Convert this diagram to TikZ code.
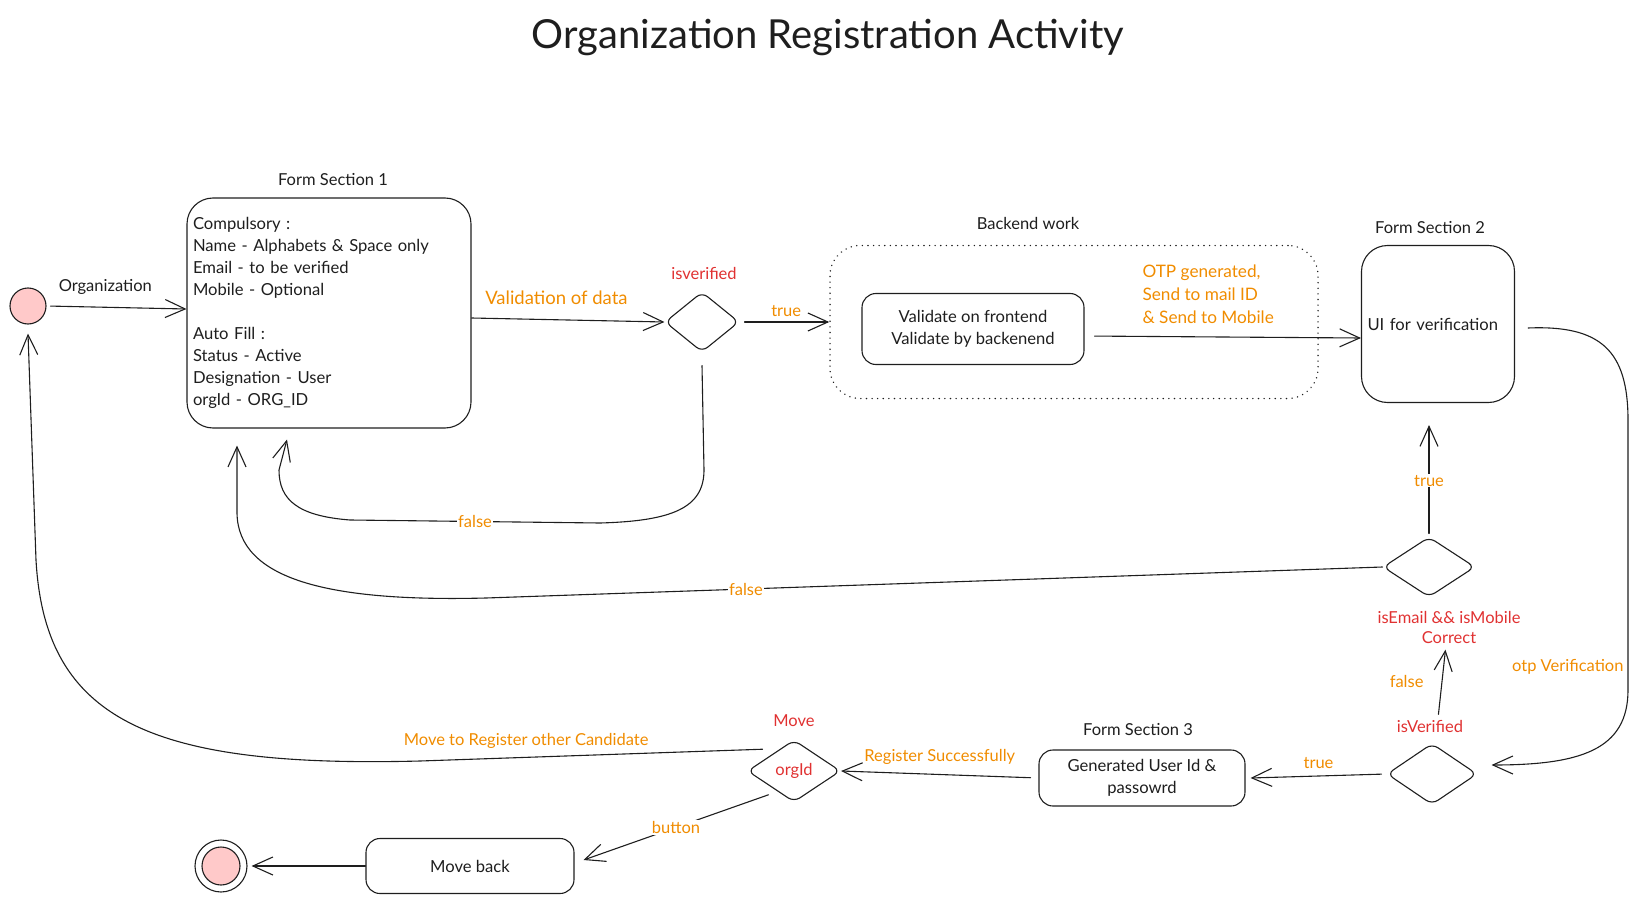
\documentclass[tikz,border=0pt]{standalone}
\usepackage{fontspec}
\setmainfont{Lato}
\usetikzlibrary{shapes.geometric,arrows.meta}
\newlength{\startdotsize}
\setlength{\startdotsize}{36pt}
\definecolor{inkcolor}{RGB}{30,30,30}
\definecolor{guardcolor}{RGB}{224,49,49}
\definecolor{eventcolor}{RGB}{240,140,0}
\definecolor{dotcolor}{RGB}{255,201,201}
\newcommand{\bodyfont}{\fontsize{16.6}{22}\selectfont}
\newcommand{\labelfont}{\fontsize{16.5}{20}\selectfont}
\newcommand{\titlefont}{\fontsize{40}{44}\selectfont}
\tikzstyle{statebox} = [draw=inkcolor, rounded corners=14pt, text=inkcolor, font=\bodyfont, inner sep=6pt, align=center]
\tikzstyle{formbox} = [statebox, rounded corners=26pt, align=left]
\tikzstyle{decision} = [draw=inkcolor, diamond, rounded corners=7pt, inner sep=0, font=\labelfont, text=guardcolor]
\tikzstyle{flow} = [draw=inkcolor, -{Straight Barb[length=20pt, width=18pt]}, line cap=round]
\tikzstyle{caption} = [text=inkcolor, font=\labelfont, inner sep=1pt]
\tikzstyle{guard} = [text=guardcolor, font=\labelfont, inner sep=1pt]
\tikzstyle{event} = [text=eventcolor, font=\labelfont, inner sep=1pt]
\tikzstyle{onedge} = [event, fill=white]

\begin{document}
\begin{tikzpicture}[
		x=1pt, y=-1pt,
		line width=1.1pt
		]
		\useasboundingbox (0,0) rectangle (1641,904);
		
		\node[text=inkcolor, font=\titlefont] (heading) at (828,37) {Organization Registration Activity};
		
		% start and end points
		\node[circle, draw=inkcolor, fill=dotcolor, minimum size=\startdotsize, inner sep=0] (start) at (28,306) {};
		\node[circle, draw=inkcolor, minimum size=52pt, inner sep=0] (finish) at (221,866) {};
		\node[circle, draw=inkcolor, fill=dotcolor, minimum size=38pt, inner sep=0] (finishcore) at (finish) {};
		
		% states
		\node[formbox, minimum height=230pt, text width=272pt] (form1) at (329,313) {Compulsory :\\Name - Alphabets \& Space only\\Email - to be verified\\Mobile - Optional\\[22pt]Auto Fill :\\Status - Active\\Designation - User\\orgId - ORG\_ID};
		\node[caption] (form1title) at (333,180) {Form Section 1};
		
		\node[draw=inkcolor, line width=1.5pt, dash pattern=on 0.1pt off 5.5pt, line cap=round, rounded corners=30pt, minimum width=488pt, minimum height=153pt] (backend) at (1074,322) {};
		\node[caption] (backendtitle) at (1028,223) {Backend work};
		\node[statebox, minimum width=222pt, minimum height=71pt] (validate) at (973,329) {Validate on frontend\\Validate by backenend};
		
		\node[formbox, minimum height=157pt, text width=141pt] (form2) at (1438,324) {UI for verification};
		\node[caption] (form2title) at (1430,228) {Form Section 2};
		
		\node[statebox, minimum width=206pt, minimum height=56pt] (form3) at (1142,778) {Generated User Id \&\\passowrd};
		\node[caption] (form3title) at (1138,730) {Form Section 3};
		
		\node[statebox, minimum width=208pt, minimum height=55pt] (moveback) at (470,866) {Move back};
		
		% decisions
		\node[decision, minimum width=74pt, minimum height=60pt] (verifycheck) at (702,322) {};
		\node[guard] (verifynote) at (704,273) {isverified};
		\node[decision, minimum width=92pt, minimum height=60pt] (contactcheck) at (1429,567) {};
		\node[guard, align=center] (contactnote) at (1449,627) {isEmail \&\& isMobile\\Correct};
		\node[decision, minimum width=90pt, minimum height=61pt] (otpcheck) at (1432,774) {};
		\node[guard] (otpnote) at (1430,726) {isVerified};
		\node[decision, minimum width=93pt, minimum height=62pt] (orgcheck) at (794,771) {orgId};
		\node[guard] (orgnote) at (794,721) {Move};
		
		% transitions
		\draw[flow, shorten <=4pt] (start.east) -- node[caption, above=11pt, pos=0.42] {Organization} ([yshift=4pt]form1.west);
		\draw[flow] ([yshift=-5pt]form1.east) -- node[event, font=\fontsize{18.5}{22}\selectfont, above=14pt, pos=0.44] {Validation of data} (verifycheck.west);
		\draw[flow, shorten <=5pt] (verifycheck.east) -- node[event, above=4pt, pos=0.52] {true} (backend.west);
		\draw[flow, shorten <=10pt] ([yshift=-7pt]validate.east) -- ([yshift=-14pt]form2.west);
		\node[event, font=\fontsize{17.2}{23}\selectfont, align=left, anchor=west] (otpsent) at (1141,294) {OTP generated,\\Send to mail ID\\\& Send to Mobile};
		
		\draw[flow] ([yshift=-13pt]verifycheck.south) -- (704,470)
			.. controls (704,508) and (672,521) .. (600,523)
			-- node[onedge, pos=0.5] {false} (350,520)
			.. controls (298,516) and (279,500) .. (279,470)
			-- ([xshift=-42pt,yshift=-11pt]form1.south);
		
		\draw[flow] (contactcheck.west) -- node[onedge, pos=0.71] {false} (486,598)
			.. controls (330,602) and (238,580) .. (237,513)
			-- ([xshift=-92pt,yshift=-17pt]form1.south);
		
		\draw[flow] ([xshift=13pt,yshift=-4pt]form2.east)
			.. controls (1600,325) and (1628,350) .. (1628,420)
			-- node[event, anchor=east, xshift=-3pt, pos=0.915] {otp Verification} (1628,690)
			.. controls (1628,750) and (1580,765) .. ([xshift=14pt,yshift=9pt]otpcheck.east);
		
		\draw[flow, shorten <=4pt, shorten >=5pt] ([xshift=8pt]otpnote.north) -- node[event, left=17pt] {false} ([xshift=-3pt]contactnote.south);
		\draw[flow, shorten <=3pt] (contactcheck.north) -- node[onedge, pos=0.5] {true} ([xshift=-9pt,yshift=-22pt]form2.south);
		\draw[flow, shorten <=5pt] (otpcheck.west) -- node[event, above=6pt] {true} ([xshift=5pt]form3.east);
		\draw[flow, shorten <=8pt] (form3.west) -- node[event, above=8pt] {Register Successfully} (orgcheck.east);
		\draw[flow] ([xshift=-2pt,yshift=-8pt]orgcheck.south west) -- node[onedge, pos=0.5] {button} ([xshift=9pt,yshift=6pt]moveback.east);
		\draw[flow] ([xshift=-8pt,yshift=6pt]orgcheck.north west)
			-- node[event, above=7pt, pos=0.69] {Move to Register other Candidate} (420,761)
			.. controls (150,768) and (45,720) .. (36,560)
			-- ([yshift=-9pt]start.south);
		\draw[flow] (moveback.west) -- ([xshift=4pt]finish.east);
		
	\end{tikzpicture}
\end{document}
